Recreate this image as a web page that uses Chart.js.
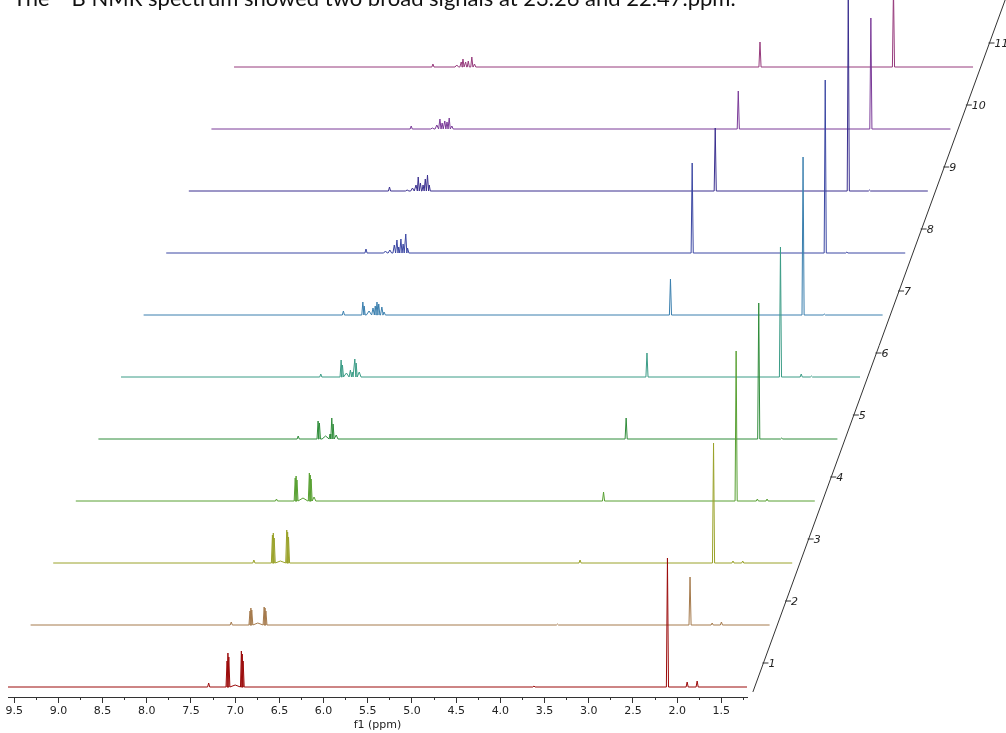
<!DOCTYPE html>
<html>
<head>
<meta charset="utf-8">
<title>Stacked 1H NMR spectra</title>
<script src="https://cdn.jsdelivr.net/npm/chart.js@4/dist/chart.umd.min.js"></script>
<style>
  body { margin: 0; background: #fff; }
  #wrap { position: relative; width: 1006px; height: 733px; overflow: hidden; }
  #caption {
    position: absolute; left: 13px; top: -13px; white-space: nowrap;
    font-family: Lato, "Noto Sans", sans-serif; font-size: 22px; line-height: 22px; color: #111;
  }
  #caption sup { font-size: 14px; vertical-align: baseline; position: relative; top: -9px; }
  canvas { position: absolute; left: 0; top: 0; }
</style>
</head>
<body>
<div id="wrap">
  <canvas id="nmr" width="1006" height="733"></canvas>
  <div id="caption">The <sup>11</sup>B NMR spectrum showed two broad signals at 23.26 and 22.47.ppm.</div>
</div>
<script>
// ---------- Data (ppm, intensity), bottom trace first ----------
const specMax = 9.57;
const specMin = 1.21;
const ppmTicks = [9.5, 9.0, 8.5, 8.0, 7.5, 7.0, 6.5, 6.0, 5.5, 5.0, 4.5, 4.0, 3.5, 3.0, 2.5, 2.0, 1.5];
const ppmMinorTicks = [9.25, 8.75, 8.25, 7.75, 7.25, 6.75, 6.25, 5.75, 5.25, 4.75, 4.25, 3.75, 3.25, 2.75, 2.25, 1.75, 1.25];
const slantLabels = ['1', '2', '3', '4', '5', '6', '7', '8', '9', '10', '11'];

// [ppm, height, optional half width]
const trace1 = [[7.30, 4], [7.092, 26], [7.082, 34], [7.072, 30], [7.0, 2, 0.06], [6.93, 36], [6.92, 33], [6.91, 26], [3.62, 1], [2.11, 129], [1.887, 5], [1.774, 6]];
const trace2 = [[7.30, 3], [7.088, 14], [7.078, 17], [7.068, 15], [7.0, 2, 0.06], [6.928, 18], [6.918, 17], [6.908, 14], [3.61, 1], [2.11, 48], [1.86, 2], [1.755, 3]];
const trace3 = [[7.30, 3], [7.09, 28], [7.08, 30], [7.07, 25], [7.0, 2, 0.06], [6.928, 33], [6.918, 31], [6.908, 26], [3.61, 3], [2.10, 120], [1.88, 2], [1.77, 2]];
const trace4 = [[7.30, 2], [7.088, 23], [7.078, 25], [7.068, 21], [7.0, 3, 0.055], [6.928, 28], [6.918, 26], [6.908, 22], [6.875, 4, 0.02], [3.60, 9], [2.10, 150], [1.86, 2], [1.75, 2]];
const trace5 = [[7.31, 3], [7.085, 18], [7.07, 16], [7.0, 3, 0.04], [6.95, 5, 0.01], [6.93, 21], [6.915, 15], [6.88, 4, 0.02], [3.60, 21], [2.10, 136], [1.84, 1]];
const trace6 = [[7.31, 3], [7.08, 17], [7.065, 12], [7.02, 4, 0.03], [6.975, 7], [6.955, 5, 0.01], [6.925, 18], [6.91, 14], [6.875, 5, 0.02], [3.62, 24], [2.11, 130], [1.875, 3], [1.76, 1]];
const trace7 = [[7.31, 4], [7.09, 13], [7.075, 9], [7.02, 4, 0.03], [6.975, 7, 0.015], [6.95, 9], [6.93, 13], [6.91, 11], [6.875, 8, 0.015], [6.85, 3, 0.015], [3.61, 36], [2.11, 158], [1.87, 1]];
const trace8 = [[7.31, 4], [7.09, 2, 0.02], [7.04, 3, 0.02], [6.99, 8, 0.015], [6.96, 13], [6.94, 6], [6.915, 14], [6.89, 9], [6.86, 19], [6.84, 5, 0.015], [3.62, 90], [2.115, 173], [1.87, 1]];
const trace9 = [[7.30, 4], [7.1, 1, 0.02], [7.04, 3, 0.02], [7.0, 6, 0.015], [6.975, 14], [6.95, 8], [6.92, 6], [6.895, 12], [6.87, 16], [6.85, 6], [3.615, 63], [2.11, 200], [1.87, 1]];
const trace10 = [[7.31, 3], [7.07, 1, 0.02], [7.02, 4, 0.02], [6.985, 10], [6.96, 6], [6.93, 8], [6.905, 7], [6.88, 11], [6.85, 3, 0.015], [3.61, 38], [2.11, 111]];
const trace11 = [[7.32, 3], [7.05, 2, 0.02], [7.0, 5, 0.015], [6.98, 8], [6.95, 5], [6.92, 6], [6.88, 10], [6.85, 3, 0.015], [3.62, 25], [2.11, 80]];

const traces = [trace1, trace2, trace3, trace4, trace5, trace6, trace7, trace8, trace9, trace10, trace11];
const colors = ['#9b0a0a', '#a57a4c', '#9aa22a', '#58a032', '#2f8c3a', '#3b9c86', '#3a7fae', '#3b47a3', '#3a2f8f', '#7a3a98', '#963a7c'];

// ---------- Stacking offsets ----------
const SHIFT = 0.2557;   // ppm each trace moves right
const STEP = 62;        // vertical step between traces (y units = px)
const BASE = 10;        // bottom trace baseline above the axis
const LINE_W = 0.012;   // half width of a sharp line, ppm
const SLANT_PPM = 1.123;
const TICK_LIFT = 24 / 62;

function buildTrace(peaks, k) {
  const pts = [[specMax, 0]];
  peaks.forEach(([p, h, w]) => {
    const hw = w || LINE_W;
    pts.push([p + hw, 0], [p, h], [p - hw, 0]);
  });
  pts.push([specMin, 0]);
  return pts.map(([p, h]) => ({ x: p - k * SHIFT, y: BASE + k * STEP + h }));
}

const datasets = traces.map((peaks, k) => ({
  label: slantLabels[k],
  data: buildTrace(peaks, k),
  borderColor: colors[k],
  borderWidth: 1,
  pointRadius: 0,
  tension: 0,
  clip: false
}));

// ---------- Slanted stack axis ----------
const slantAxis = {
  id: 'slantAxis',
  afterDatasetsDraw(chart) {
    const { ctx, scales: { x, y } } = chart;
    const px = t => x.getPixelForValue(SLANT_PPM - t * SHIFT);
    const py = t => y.getPixelForValue(BASE + t * STEP);
    ctx.save();
    ctx.strokeStyle = '#333';
    ctx.lineWidth = 1;
    ctx.beginPath();
    ctx.moveTo(px(-0.08), py(-0.08));
    ctx.lineTo(px(11.5), py(11.5));
    ctx.stroke();
    ctx.font = 'italic 11px "DejaVu Sans"';
    ctx.fillStyle = '#222';
    ctx.textBaseline = 'middle';
    slantLabels.forEach((lab, i) => {
      const sx = px(i + TICK_LIFT), sy = py(i + TICK_LIFT);
      ctx.beginPath();
      ctx.moveTo(sx - 1, sy);
      ctx.lineTo(sx + 5, sy);
      ctx.stroke();
      ctx.fillText(lab, sx + 5, sy + 1);
    });
    ctx.restore();
  }
};

new Chart(document.getElementById('nmr'), {
  type: 'line',
  data: { datasets },
  plugins: [slantAxis],
  options: {
    responsive: false,
    animation: false,
    devicePixelRatio: 1,
    layout: { autoPadding: false, padding: { left: 8, right: 259, top: 0, bottom: 0 } },
    plugins: { legend: { display: false }, tooltip: { enabled: false } },
    scales: {
      x: {
        type: 'linear', reverse: true, min: specMin, max: specMax, weight: 1,
        border: { display: true, color: '#333', width: 1 },
        grid: { drawOnChartArea: false, tickLength: 6, color: '#333' },
        ticks: {
          autoSkip: false, maxRotation: 0, padding: 2, color: '#222',
          font: { family: 'DejaVu Sans', size: 11 },
          callback: v => v.toFixed(1)
        },
        afterBuildTicks: s => { s.ticks = ppmTicks.map(v => ({ value: v })); },
        afterFit: s => { s.height = 36; s.paddingLeft = 0; s.paddingRight = 0; },
        title: {
          display: true, text: 'f1 (ppm)', color: '#222',
          font: { family: 'DejaVu Sans', size: 11 }, padding: { top: 0, bottom: 1 }
        }
      },
      xMinor: {
        type: 'linear', axis: 'x', position: 'bottom', reverse: true, min: specMin, max: specMax, weight: 0,
        border: { display: false },
        grid: { drawOnChartArea: false, tickLength: 3, color: '#333' },
        ticks: { display: false, autoSkip: false },
        afterBuildTicks: s => { s.ticks = ppmMinorTicks.map(v => ({ value: v })); },
        afterFit: s => { s.height = 0; s.paddingLeft = 0; s.paddingRight = 0; }
      },
      y: { type: 'linear', display: false, min: 0, max: 697 }
    }
  }
});
</script>
</body>
</html>
